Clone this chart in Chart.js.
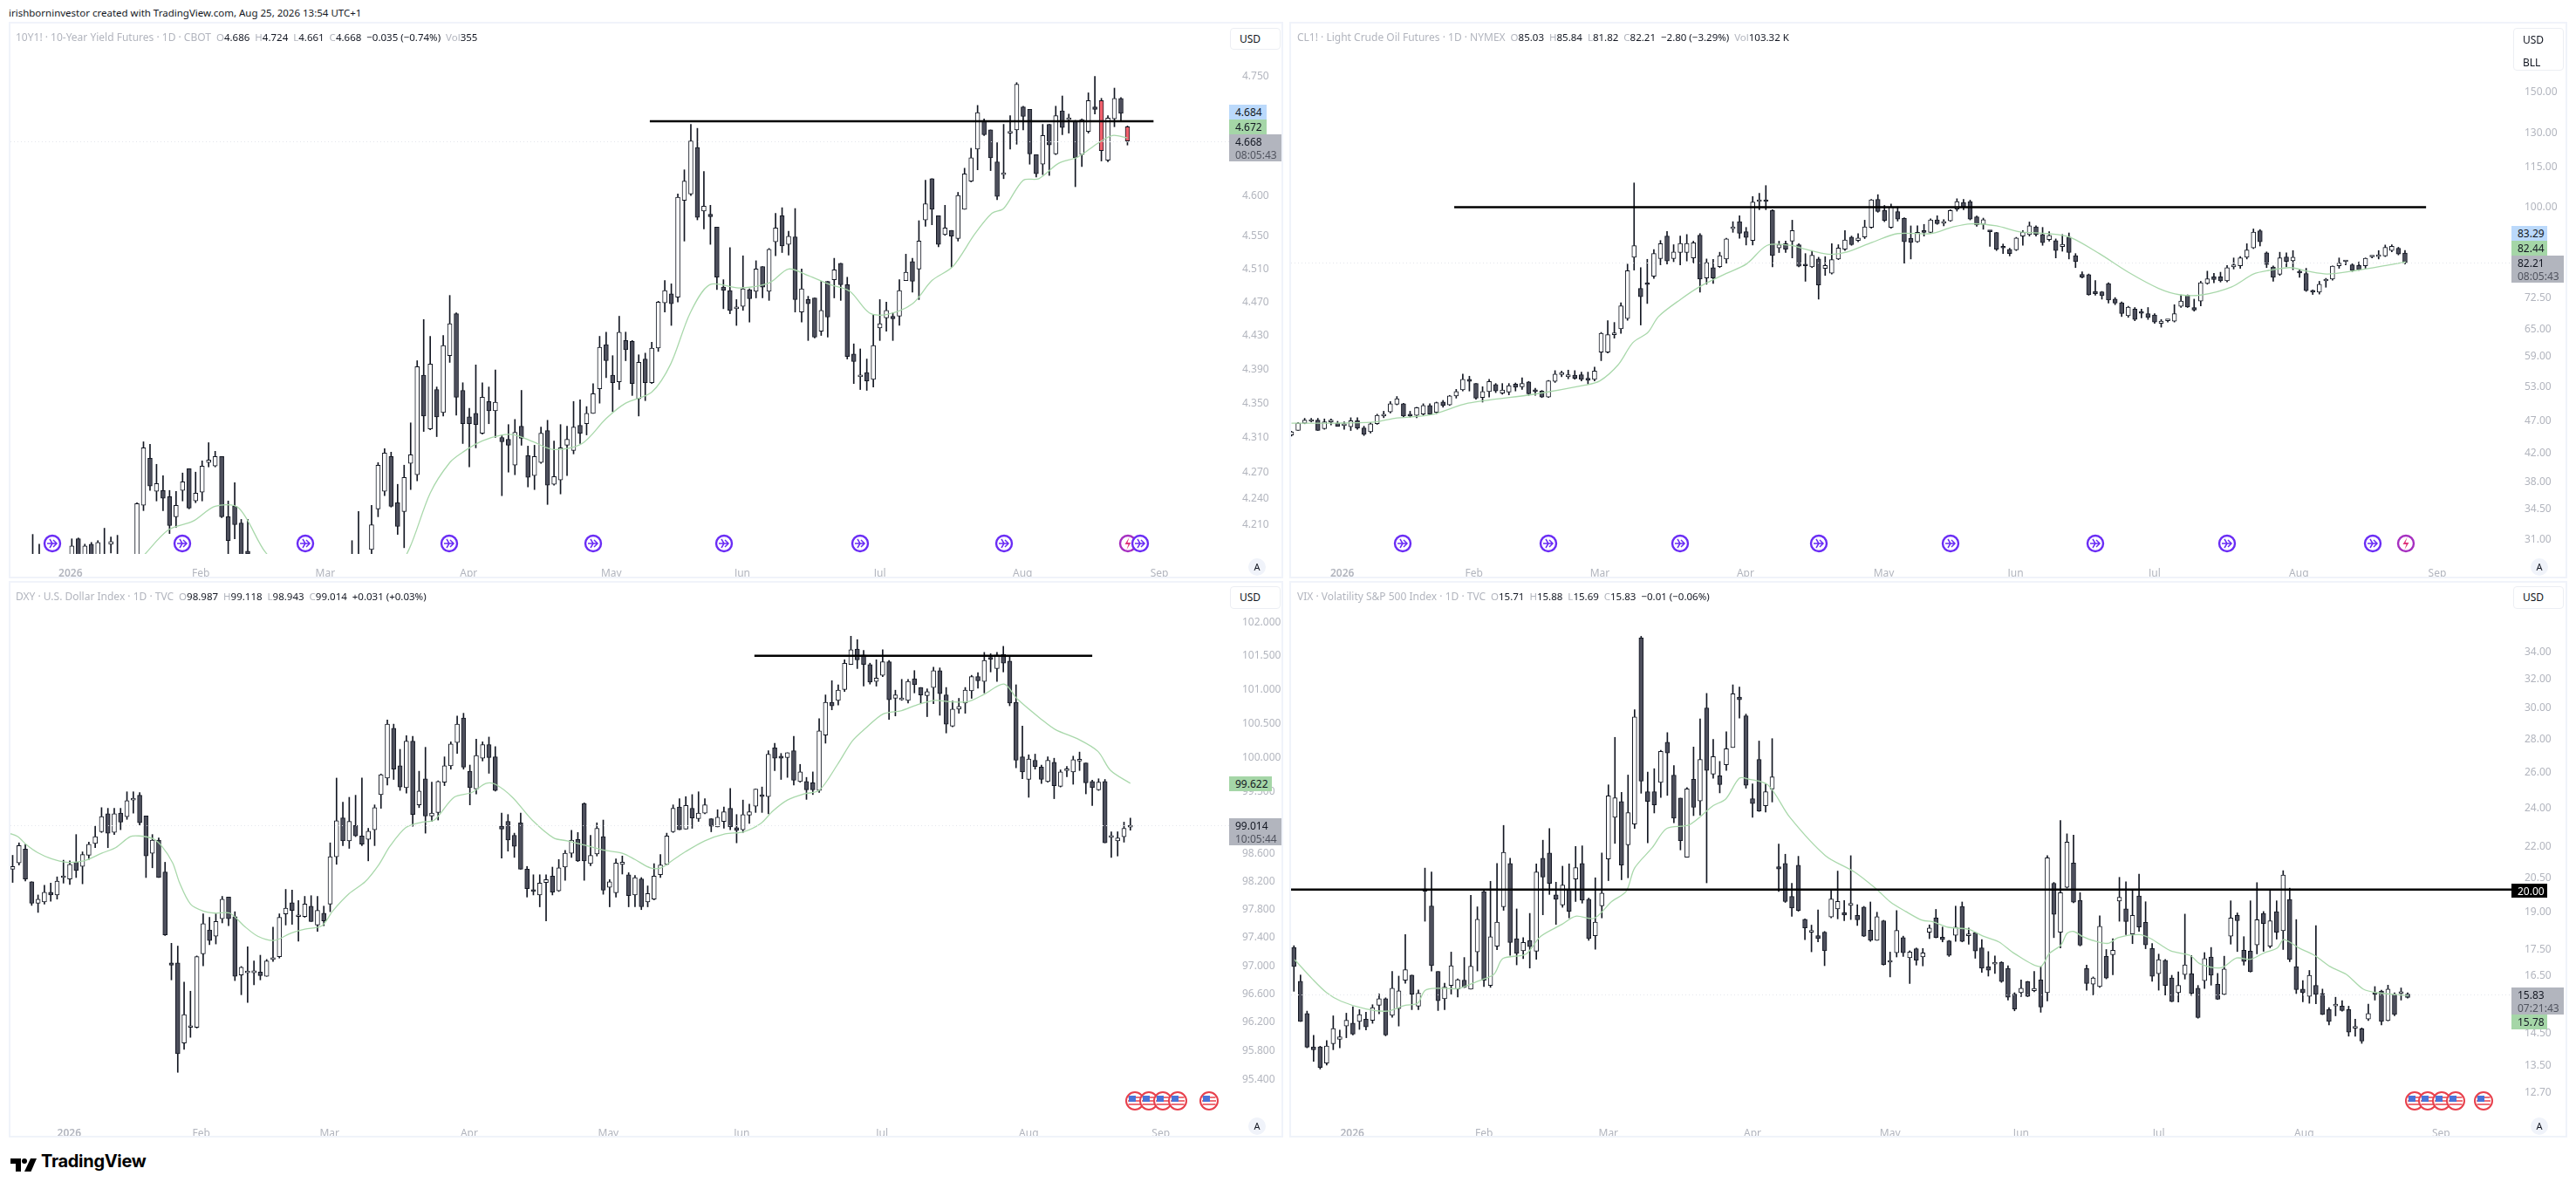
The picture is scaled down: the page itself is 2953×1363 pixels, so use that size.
<!DOCTYPE html>
<html>
<head>
<meta charset="utf-8">
<script src="https://cdn.jsdelivr.net/npm/chart.js@4"></script>
<style>
  body { margin: 0; background: #fff; width: 2953px; height: 1363px; overflow: hidden; position: relative; font-family: "Noto Sans", sans-serif; color: #131722; }
  .abs { position: absolute; white-space: nowrap; }
  canvas { position: absolute; }
  .frame { position: absolute; border: 2px solid #f0f3fa; box-sizing: border-box; }
  .legend { font-size: 11.5px; color: #b2b5be; }
  .legend b { font-weight: 400; color: #131722; }
  .legend span { font-size: 12px; }
  .badge { font-size: 12px; line-height: 15px; padding: 1px 0 0 7px; box-sizing: border-box; }
  .badge i { font-style: normal; color: #50535e; display: block; }
  .unit { background: #fff; border: 1px solid #eceef3; border-radius: 4px; box-sizing: border-box; font-size: 12px; padding-left: 10px; }
  .auto { width: 20px; height: 20px; border-radius: 10px; background: #f0f3fa; font-size: 11px; text-align: center; line-height: 20px; }
</style>
</head>
<body>
<script>
const monthNames = ["2026", "Feb", "Mar", "Apr", "May", "Jun", "Jul", "Aug", "Sep"];

// 10Y1! yield futures
const yieldTicks = [4.75, 4.6, 4.55, 4.51, 4.47, 4.43, 4.39, 4.35, 4.31, 4.27, 4.24, 4.21];
const yieldMonthAt = [5.8, 25.8, 44.9, 66.9, 88.8, 108.9, 130, 151.9, 172.9];
const yieldOpen = [4.160,4.170,null,null,null,null,4.165,4.194,4.170,4.188,4.170,4.170,4.188,4.170,null,null,4.170,4.232,4.286,4.248,4.249,4.242,4.219,4.249,4.274,4.237,4.247,4.281,4.277,4.288,4.219,4.231,4.212,4.180,null,null,null,null,null,null,null,null,null,null,null,null,null,null,null,4.16,4.16,null,
4.182,4.228,4.248,4.288,4.235,4.225,4.280,4.267,4.383,4.320,
4.366,4.339,4.406,4.456,4.365,4.334,4.338,4.315,4.352,4.341,
4.310,4.308,4.278,4.323,4.289,4.266,4.281,4.318,4.256,4.261,
4.301,4.295,4.324,4.326,4.338,4.367,4.419,4.383,4.375,4.424,
4.423,4.355,4.402,4.374,4.415,4.469,4.480,4.476,4.594,4.602,
4.660,4.581,4.577,4.561,4.488,4.484,4.462,4.465,4.485,4.483,
4.513,4.483,4.543,4.575,4.540,4.549,4.458,4.473,4.475,4.435,
4.495,4.497,4.517,4.491,4.408,4.381,4.386,4.378,4.439,4.451,
4.453,4.453,4.496,4.519,4.510,4.570,4.621,4.575,4.552,4.557,
4.547,4.583,4.618,4.658,4.694,4.682,4.642,4.626,4.678,4.682,
4.711,4.708,4.651,4.639,4.689,4.652,4.706,4.695,4.693,4.651,
4.680,4.711,4.719,4.644,4.696,4.722,4.686];
const yieldHigh = [4.199,4.188,null,null,null,null,4.194,4.195,4.188,4.190,4.192,4.206,4.196,4.198,null,null,4.235,4.305,4.302,4.279,4.266,4.249,4.248,4.269,4.274,4.270,4.283,4.304,4.294,4.288,4.237,4.258,4.216,4.216,null,null,null,null,null,null,null,null,null,null,null,null,null,null,null,4.192,4.225,null,
4.232,4.281,4.297,4.293,4.256,4.278,4.327,4.400,4.449,4.429,
4.369,4.430,4.478,4.457,4.374,4.344,4.395,4.374,4.369,4.389,
4.312,4.325,4.331,4.365,4.300,4.301,4.322,4.330,4.306,4.325,
4.323,4.352,4.354,4.346,4.373,4.429,4.434,4.406,4.453,4.434,
4.424,4.407,4.409,4.422,4.471,4.496,4.492,4.602,4.632,4.689,
4.684,4.630,4.588,4.561,4.497,4.536,4.473,4.526,4.486,4.520,
4.513,4.535,4.578,4.585,4.556,4.584,4.510,4.477,4.475,4.495,
4.495,4.523,4.517,4.500,4.420,4.414,4.402,4.455,4.473,4.470,
4.457,4.497,4.528,4.523,4.569,4.619,4.621,4.575,4.588,4.557,
4.604,4.634,4.659,4.713,4.696,4.682,4.666,4.689,4.700,4.742,
4.712,4.708,4.651,4.689,4.689,4.712,4.725,4.702,4.694,4.696,
4.729,4.750,4.722,4.700,4.735,4.723,4.687];
const yieldLow = [4.150,4.150,null,null,null,null,4.150,4.150,4.160,4.150,4.160,4.150,4.178,4.150,null,null,4.160,4.226,4.249,4.237,4.226,4.200,4.207,4.237,4.228,4.235,4.237,4.276,4.276,4.218,4.170,4.194,4.170,4.165,null,null,null,null,null,null,null,null,null,null,null,null,null,null,null,4.15,4.15,null,
4.165,4.219,4.243,4.230,4.199,4.184,4.250,4.260,4.317,4.319,
4.311,4.335,4.398,4.336,4.303,4.276,4.298,4.314,4.326,4.310,
4.243,4.270,4.267,4.301,4.253,4.250,4.280,4.233,4.255,4.245,
4.266,4.291,4.303,4.313,4.338,4.350,4.380,4.340,4.366,4.400,
4.359,4.335,4.353,4.373,4.411,4.458,4.442,4.470,4.544,4.600,
4.570,4.559,4.540,4.485,4.462,4.456,4.442,4.460,4.446,4.475,
4.475,4.472,4.526,4.530,4.527,4.458,4.446,4.424,4.427,4.430,
4.428,4.475,4.472,4.402,4.373,4.366,4.365,4.369,4.424,4.435,
4.424,4.442,4.496,4.482,4.473,4.562,4.564,4.537,4.551,4.512,
4.544,4.583,4.617,4.632,4.675,4.631,4.595,4.621,4.658,4.664,
4.682,4.639,4.623,4.626,4.625,4.651,4.676,4.678,4.611,4.636,
4.678,4.702,4.643,4.642,4.686,4.694,4.663];
const yieldClose = [4.170,4.160,null,null,null,null,4.186,4.160,4.186,4.165,4.190,4.160,4.191,4.165,null,null,4.234,4.298,4.254,4.257,4.240,4.209,4.232,4.259,4.229,4.246,4.277,4.284,4.288,4.219,4.192,4.210,4.175,4.177,null,null,null,null,null,null,null,null,null,null,null,null,null,null,null,4.165,4.165,null,
4.210,4.278,4.292,4.231,4.208,4.264,4.290,4.393,4.335,4.396,
4.334,4.418,4.444,4.357,4.326,4.326,4.325,4.357,4.341,4.351,
4.305,4.301,4.316,4.309,4.264,4.288,4.315,4.255,4.265,4.298,
4.308,4.322,4.315,4.338,4.361,4.416,4.400,4.374,4.434,4.413,
4.373,4.398,4.374,4.415,4.470,4.484,4.468,4.598,4.618,4.668,
4.573,4.587,4.574,4.500,4.484,4.460,4.462,4.486,4.474,4.510,
4.488,4.534,4.560,4.538,4.550,4.473,4.486,4.468,4.428,4.460,
4.452,4.509,4.491,4.405,4.399,4.381,4.376,4.418,4.444,4.460,
4.450,4.484,4.506,4.495,4.544,4.590,4.583,4.540,4.560,4.550,
4.600,4.627,4.647,4.704,4.676,4.647,4.599,4.628,4.680,4.740,
4.699,4.652,4.627,4.675,4.663,4.700,4.685,4.695,4.647,4.695,
4.719,4.708,4.656,4.697,4.722,4.703,4.668];
const yieldMaAt = [17,20.8,24.6,28,31.6,35.7,40,45,50,55,57.8,61,64,66,69,72,74,76.8,80,84.3,88,91,95,97.9,100.9,103.9,108.4,113,116,119,122.4,125.4,128.4,131,135,138,141.2,144.6,147.2,149,152,154.4,157.4,160.4,163.4,165.7,168];
const yieldMa = [4.175,4.204,4.214,4.231,4.229,4.179,4.150,4.125,4.125,4.150,4.183,4.246,4.281,4.293,4.306,4.313,4.313,4.305,4.296,4.303,4.332,4.350,4.363,4.396,4.457,4.491,4.487,4.493,4.510,4.502,4.491,4.483,4.457,4.455,4.468,4.496,4.513,4.553,4.578,4.584,4.619,4.621,4.640,4.648,4.665,4.675,4.672];

// CL1! crude oil
const oilTicks = [150, 130, 115, 100, 72.5, 65, 59, 53, 47, 42, 38, 34.5, 31];
const oilMonthAt = [7.7, 27.7, 46.8, 68.9, 89.9, 109.9, 131, 152.9, 173.9];
const oilOpen = [44.8,45.5,46.7,47.0,47.2,45.8,46.9,46.7,46.3,46.1,
47.1,45.9,45.3,46.6,47.9,48.6,49.9,50.0,48.2,48.0,
48.2,49.7,48.5,50.3,49.8,51.4,52.5,54.5,53.7,51.1,
52.2,53.5,51.9,52.1,53.6,53.1,54.0,52.3,52.3,51.2,
54.1,55.4,55.0,55.3,55.4,54.7,54.5,60.0,60.0,63.8,
65.1,67.5,83.8,75.1,76.3,78.4,83.4,90.3,83.4,85.2,
85.2,83.6,90.6,77.9,80.8,81.1,83.3,92.7,95.0,91.7,
88.9,102.0,102.3,98.8,86.6,87.9,88.7,87.6,81.8,81.0,
83.3,80.6,79.2,83.3,86.2,90.0,88.9,90.0,93.1,102.8,
98.9,93.1,98.4,96.1,89.6,88.5,92.1,91.5,95.6,94.5,
95.3,99.3,101.7,102.0,96.6,94.1,92.0,91.4,86.8,86.2,
86.0,90.3,90.8,93.3,90.8,89.2,88.9,87.0,90.0,84.3,
78.9,78.8,74.3,74.2,76.4,72.3,71.4,68.2,69.8,69.1,
68.7,68.4,66.4,67.0,66.9,70.5,73.3,70.2,71.8,76.4,
78.2,78.2,77.1,81.0,81.3,83.8,86.6,92.0,85.1,81.0,
78.9,83.9,82.8,79.5,79.1,74.3,74.1,77.1,77.6,81.3,
82.5,81.6,81.4,81.3,83.9,84.0,84.2,85.8,86.5,85.03];
const oilHigh = [45.4,46.8,47.5,47.5,47.5,47.4,47.4,47.0,46.9,47.6,
47.6,46.2,46.8,48.2,48.7,50.4,51.3,50.1,48.7,49.4,
50.0,50.0,50.3,50.6,51.5,52.6,55.5,55.1,53.7,53.1,
54.5,53.7,53.7,53.7,53.8,54.8,54.1,52.8,52.4,54.3,
56.2,56.1,56.3,56.2,55.9,55.9,56.9,64.3,67.0,66.6,
71.4,81.8,108.9,80.8,83.2,86.1,88.9,91.8,87.6,90.3,
90.8,88.7,91.1,83.3,83.2,85.3,89.6,95.0,97.0,93.1,
103.8,105.0,107.9,99.1,88.7,88.7,95.5,87.9,84.9,85.8,
83.8,84.0,87.9,87.6,92.1,90.3,91.1,95.5,102.8,104.5,
100.6,101.1,100.1,96.3,93.6,93.6,94.1,96.0,97.0,95.7,
99.1,103.0,102.8,102.5,96.9,96.2,92.1,91.5,87.8,86.5,
89.9,92.1,94.9,93.6,93.1,91.7,89.4,90.8,91.3,84.9,
79.6,79.0,77.2,74.3,76.6,72.7,71.6,70.5,70.2,69.8,
70.2,68.7,67.3,67.3,70.9,73.4,73.4,72.3,77.0,79.8,
79.2,79.5,81.4,83.6,84.0,87.9,92.6,92.4,85.4,81.3,
85.3,85.1,85.8,80.4,80.6,74.7,77.0,77.8,81.3,83.6,
82.8,81.9,82.4,83.6,84.2,85.8,87.5,87.6,86.8,85.84];
const oilLow = [44.6,45.5,46.6,46.9,45.5,45.7,46.4,46.2,45.7,45.5,
45.7,44.7,45.1,46.5,47.6,48.4,49.8,47.7,47.7,47.6,
48.0,48.1,48.3,49.4,49.7,51.0,52.3,52.3,50.8,50.3,
51.2,52.0,51.7,51.6,52.3,52.6,51.5,51.5,51.1,51.1,
53.9,55.0,54.6,54.5,54.2,53.6,54.2,58.2,59.8,63.0,
64.1,67.1,80.1,66.0,71.2,77.8,81.6,81.8,82.5,81.6,
82.7,82.1,74.1,76.2,76.4,80.8,82.1,91.5,89.6,87.5,
87.5,99.1,99.1,81.0,85.2,85.2,83.6,81.0,77.0,80.8,
72.3,78.6,79.0,83.1,85.8,87.4,88.5,89.5,92.8,98.2,
95.0,92.8,95.2,82.1,83.3,88.3,90.3,91.2,94.1,93.6,
95.1,98.6,99.1,95.6,93.5,92.5,87.1,85.8,84.9,84.2,
85.8,87.4,90.3,90.3,87.4,88.7,83.6,85.6,83.3,80.8,
77.9,73.3,73.3,72.3,71.3,70.9,68.0,67.8,67.0,67.7,
67.3,66.4,65.5,66.7,66.7,70.2,70.2,69.3,70.6,76.2,
76.6,76.8,76.8,80.4,80.6,83.3,86.4,87.2,80.8,77.0,
78.6,81.0,80.2,78.1,74.3,73.5,73.6,75.4,77.3,80.6,
81.6,79.7,80.0,80.6,83.6,83.3,84.0,85.4,84.5,81.82];
const oilClose = [45.3,46.7,47.2,47.2,45.5,46.9,47.0,46.2,46.3,47.1,
45.9,44.9,46.6,48.0,48.2,50.0,50.9,47.9,47.9,49.3,
49.7,48.2,50.2,49.7,51.4,52.2,54.5,54.1,51.0,52.2,
54.1,52.3,52.5,53.3,53.0,53.7,51.8,52.2,51.2,54.2,
55.5,55.8,55.4,54.7,54.5,54.3,56.1,64.1,63.8,63.9,
70.6,79.9,87.3,72.9,76.1,84.9,87.9,82.7,85.4,88.0,
88.0,88.2,77.6,82.2,77.9,84.3,89.4,92.8,91.2,89.9,
101.8,102.5,102.0,84.3,87.6,86.2,92.1,81.2,81.3,84.4,
76.0,81.4,83.1,86.6,89.1,87.6,89.7,93.3,102.6,98.5,
95.4,100.1,95.9,88.5,88.3,91.5,91.5,95.6,94.3,94.6,
98.8,102.0,100.1,95.9,93.9,95.7,91.7,86.2,86.6,84.9,
89.7,91.5,93.6,90.8,88.2,90.5,85.8,87.7,85.2,82.5,
78.1,73.4,73.7,73.2,72.1,71.3,68.7,70.3,67.3,68.8,
67.8,66.7,66.9,67.0,68.7,71.8,70.3,69.6,76.6,77.7,
77.5,77.1,80.8,81.6,83.6,86.0,91.6,88.5,81.7,78.1,
83.6,82.6,83.8,79.3,74.5,74.1,76.2,77.3,81.2,82.1,
82.5,80.0,80.2,83.5,84.0,84.3,86.8,87.1,84.8,82.21];
const oilMaAt = [0,6.7,12.8,15.6,21.2,26.8,36.8,44.6,46.8,49.6,51.8,54.1,55.7,59.1,61.9,65.8,69.1,72.2,75.8,78,81.4,84.2,88.1,92,97,100.3,103.1,107,110.4,114.8,118.2,122.6,127,131.6,134.9,138.2,142.7,146,148.3,151.6,154.4,157.2,161.6,166.1,169.1];
const oilMa = [46.7,46.7,46.9,47.5,48.1,50.1,51.7,53.4,54.2,57.4,62.0,64.3,68.0,72.3,75.5,79.0,81.9,87.4,87.4,86.2,84.7,85.3,88.3,91.1,91.1,93.2,94.3,93.6,91.7,91.1,89.9,84.9,79.5,75.1,73.4,73.4,75.5,79.0,80.0,80.8,79.7,79.0,80.0,81.4,82.44];

// DXY dollar index
const dollarTicks = [102, 101.5, 101, 100.5, 100, 99.5, 99, 98.6, 98.2, 97.8, 97.4, 97, 96.6, 96.2, 95.8, 95.4];
const dollarMonthAt = [8.9, 29.7, 49.9, 71.9, 93.8, 114.8, 136.9, 160, 180.8];
const dollarOpen = [98.38,98.47,98.67,98.20,97.89,97.91,98.05,98.01,98.26,98.24,
98.48,98.42,98.58,98.75,98.92,99.18,98.91,99.19,99.14,99.38,
99.45,99.15,98.61,98.80,98.34,97.04,97.04,95.91,96.13,96.13,
97.17,97.51,97.42,97.67,97.98,97.70,96.87,96.90,96.90,96.91,
96.85,97.09,97.13,97.74,97.90,97.70,97.70,97.85,97.58,97.75,
97.88,98.56,99.12,98.79,99.01,98.86,98.81,98.95,99.46,99.70,
100.43,99.88,99.56,100.24,99.31,99.69,99.15,99.20,99.64,99.88,
100.22,100.58,99.80,99.54,99.99,100.19,100.01,99.00,99.07,98.87,
99.05,98.38,98.07,98.01,98.19,98.28,98.07,98.41,98.61,98.81,
99.33,98.46,98.60,98.85,98.12,98.04,98.45,98.30,98.01,98.24,
97.91,97.95,98.30,98.45,98.92,99.28,98.96,99.26,99.11,99.19,
99.11,98.99,99.07,99.26,98.98,98.95,99.16,99.29,99.45,99.43,
100.14,100.02,100.00,100.10,99.65,99.65,99.63,99.52,100.33,100.81,
100.84,101.00,101.37,101.60,101.51,101.37,101.12,101.21,101.41,100.87,
100.85,100.84,101.16,101.03,100.91,101.03,101.28,100.92,100.46,100.71,
100.80,100.98,101.19,101.12,101.46,101.31,101.52,101.42,100.81,100.01,
99.68,99.96,99.86,99.65,99.93,99.58,99.81,99.79,99.95,99.92,
99.65,99.53,99.65,98.84,98.79,98.85,98.987];
const dollarHigh = [98.58,98.76,98.74,98.20,98.01,98.15,98.18,98.27,98.51,98.50,
98.88,98.63,98.77,99.00,99.27,99.26,99.26,99.26,99.50,99.50,
99.49,99.15,98.88,98.83,98.48,97.32,97.28,96.77,96.64,97.14,
97.74,97.69,97.74,97.99,97.98,97.77,96.99,97.27,97.07,97.15,
97.09,97.55,97.74,98.09,98.08,97.93,97.99,98.00,97.99,97.85,
98.76,99.70,99.35,99.42,99.45,99.70,98.97,99.31,99.76,100.55,
100.49,100.12,100.32,100.31,99.80,100.15,99.64,99.66,100.01,100.23,
100.61,100.65,99.89,100.27,100.23,100.30,100.16,99.19,99.17,98.90,
99.19,98.42,98.30,98.30,98.30,98.41,98.52,98.65,98.94,98.91,
99.34,98.87,99.05,99.09,98.23,98.53,98.57,98.33,98.29,98.26,
98.14,98.46,98.59,98.90,99.31,99.40,99.43,99.46,99.50,99.40,
99.11,99.24,99.28,99.55,99.17,99.38,99.32,99.54,99.57,100.10,
100.21,100.06,100.07,100.31,99.90,99.71,99.79,100.57,100.92,101.13,
101.07,101.44,101.79,101.74,101.58,101.39,101.44,101.59,101.43,100.99,
101.15,101.15,101.28,101.03,101.01,101.33,101.32,101.03,100.83,100.87,
101.03,101.21,101.25,101.55,101.53,101.55,101.64,101.50,101.07,100.46,
100.04,100.05,99.89,100.01,99.99,99.82,99.87,100.02,100.08,99.92,
99.67,99.69,99.68,98.92,98.92,99.06,99.118];
const dollarLow = [98.19,98.44,98.21,97.86,97.76,97.88,97.92,97.95,98.18,98.16,
98.26,98.17,98.52,98.69,98.91,98.69,98.88,98.95,99.10,99.19,
99.02,98.26,98.40,98.26,97.43,96.80,95.50,95.82,95.99,96.12,
97.00,97.30,97.31,97.61,97.57,96.79,96.59,96.48,96.73,96.80,
96.85,97.06,97.11,97.58,97.59,97.35,97.69,97.63,97.49,97.57,
97.77,98.45,98.72,98.68,98.85,98.72,98.50,98.72,99.26,99.60,
99.68,99.52,99.48,99.00,99.27,98.90,99.07,99.09,99.59,99.83,
100.06,99.83,99.31,99.47,99.95,99.77,99.51,98.54,98.64,98.55,
98.38,97.98,98.01,97.84,97.64,98.01,98.06,98.22,98.55,98.49,
98.22,98.43,98.57,98.02,97.84,97.98,98.31,97.84,97.84,97.80,
97.84,97.94,98.26,98.44,98.91,98.95,98.96,98.97,99.07,99.18,
98.92,98.99,98.97,98.95,98.76,98.91,99.04,99.20,99.20,99.18,
99.81,99.68,99.71,99.60,99.64,99.39,99.46,99.49,100.21,100.70,
100.77,100.97,101.37,101.31,101.05,101.08,101.05,101.19,100.56,100.61,
100.84,100.80,100.95,100.79,100.60,100.79,100.62,100.36,100.45,100.65,
100.65,100.87,101.02,100.95,101.26,101.12,101.26,100.76,99.85,99.69,
99.42,99.83,99.62,99.64,99.40,99.57,99.72,99.61,99.81,99.47,
99.30,99.52,98.76,98.55,98.57,98.77,98.943];
const dollarClose = [98.42,98.72,98.24,97.89,97.95,98.05,98.01,98.21,98.28,98.45,
98.36,98.59,98.74,98.85,99.14,98.90,99.18,99.06,99.37,99.39,
99.05,98.57,98.80,98.26,97.44,97.01,95.76,96.31,96.14,97.13,
97.60,97.36,97.63,97.95,97.67,96.85,96.98,96.91,96.93,96.86,
97.07,97.11,97.69,97.82,97.79,97.71,97.88,97.63,97.79,97.64,
98.56,99.08,98.79,99.07,98.86,98.74,98.93,99.27,99.75,100.49,
99.83,99.57,100.24,99.17,99.51,99.15,99.19,99.65,99.88,100.20,
100.49,99.86,99.56,100.03,100.19,100.00,99.52,98.96,98.80,98.71,
98.38,98.10,98.06,98.18,98.23,98.05,98.40,98.61,98.80,98.50,
98.50,98.58,98.97,98.08,98.20,98.47,98.48,98.00,98.26,97.84,
98.03,98.28,98.44,98.86,99.26,98.95,99.30,99.12,99.19,99.31,
99.00,99.13,99.21,98.99,98.94,99.17,99.21,99.54,99.43,100.05,
99.99,99.99,100.07,99.67,99.79,99.53,99.53,100.39,100.81,100.76,
100.99,101.39,101.59,101.44,101.37,101.11,101.17,101.41,100.85,100.92,
100.85,101.12,101.07,100.92,100.97,101.28,100.94,100.49,100.71,100.75,
100.99,101.19,101.13,101.43,101.45,101.51,101.39,100.80,99.96,99.79,
99.98,99.87,99.68,99.96,99.59,99.79,99.81,99.97,99.95,99.63,
99.56,99.64,98.76,98.84,98.83,98.97,99.014];
const dollarMaAt = [-0.6,0.8,2.2,3.9,6.1,8.4,11.2,14,16.2,18.5,19.9,22.1,23.5,25.2,26.3,28,30,31.9,34.2,36.4,38.6,41.2,43.7,46,48.7,50.4,53,55.5,57.7,59.4,61.9,64.5,66.4,69.5,72.3,74.5,76,78.7,81.8,85.2,87.3,90.8,93.4,96,98,100.4,102.1,104.1,105.9,109,112.2,115.1,117.8,119.7,122,124.6,127,129.9,132.2,134.2,137.1,140,142.3,145.2,147.5,150.4,153,156.1,158.2,162,164.2,168,170.9,172.9,176];
const dollarMa = [98.90,98.85,98.73,98.62,98.53,98.48,98.50,98.61,98.69,98.85,98.86,98.82,98.71,98.47,98.18,97.88,97.78,97.75,97.75,97.57,97.42,97.36,97.46,97.52,97.57,97.78,98.03,98.20,98.45,98.71,98.98,99.06,99.09,99.42,99.49,99.62,99.61,99.42,99.09,98.83,98.79,98.71,98.65,98.61,98.52,98.40,98.40,98.52,98.63,98.79,98.89,98.92,99.04,99.22,99.38,99.47,99.52,99.90,100.24,100.42,100.64,100.69,100.77,100.84,100.82,100.82,100.93,101.08,100.86,100.56,100.41,100.26,100.09,99.81,99.622];

// VIX
const vixTicks = [34, 32, 30, 28, 26, 24, 22, 20.5, 19, 17.5, 16.5, 15.5, 14.5, 13.5, 12.7];
const vixMonthAt = [8.9, 29, 48, 70, 91, 111, 132, 154.2, 175.1];
const vixOpen = [17.57,16.29,15.16,14.07,14.07,13.57,14.17,14.31,14.74,14.84,
14.89,14.97,14.93,15.44,15.67,15.10,15.33,16.33,16.52,15.41,
19.92,19.28,16.65,15.67,16.14,16.01,16.33,16.01,17.40,19.91,
16.14,17.62,19.24,21.20,17.92,17.44,17.85,17.42,21.45,21.70,
19.76,19.32,19.97,20.47,21.20,19.57,18.04,19.28,21.41,23.50,
24.35,22.10,23.15,35.09,24.88,24.89,25.41,27.80,25.83,24.53,
21.50,25.58,24.38,30.00,25.88,25.78,26.43,27.47,30.74,29.49,
24.50,26.75,24.12,25.04,21.04,21.20,19.69,21.12,18.71,18.18,
18.04,18.18,18.81,19.15,19.00,19.30,18.88,19.23,18.26,17.85,
18.65,17.00,17.36,17.96,17.17,17.52,17.20,18.18,18.77,17.98,
17.83,18.05,19.26,18.04,18.15,17.55,16.83,16.93,17.00,16.77,
15.83,15.88,16.28,15.95,16.34,15.88,20.28,18.18,20.10,21.22,
19.52,16.76,16.19,16.10,17.22,17.29,19.49,19.15,18.11,19.71,
18.58,17.53,16.57,17.07,16.41,15.88,16.54,16.57,16.04,16.31,
17.20,16.18,15.82,18.02,18.88,17.46,17.43,17.67,18.96,17.62,
19.03,18.24,19.56,16.83,16.01,15.75,16.14,15.85,15.29,15.42,
15.41,15.29,14.67,14.65,14.97,15.86,15.94,14.92,15.82,15.85,15.71];
const vixHigh = [17.64,16.52,15.24,14.44,14.09,14.27,15.08,14.61,15.17,15.39,
15.29,15.20,15.46,15.84,15.70,16.65,16.48,18.08,16.52,15.98,
20.98,20.80,16.65,16.22,17.39,16.38,17.18,19.74,19.24,19.97,
20.37,21.20,23.08,21.45,19.15,17.96,18.96,21.18,22.33,22.92,
20.33,21.07,21.18,22.02,22.05,19.62,20.53,21.70,25.27,28.10,
24.85,25.83,29.89,35.22,26.00,26.20,27.30,28.40,26.38,24.53,
25.12,27.50,29.29,31.00,27.97,26.63,28.46,31.60,31.45,29.60,
25.33,27.87,25.33,28.02,22.14,21.64,20.28,21.54,18.73,18.47,
19.11,18.21,19.95,20.84,19.51,21.57,19.33,19.26,19.45,19.01,
18.67,17.39,19.08,18.02,17.44,17.55,17.53,18.48,19.13,18.39,
17.85,19.27,19.45,18.35,18.18,17.88,17.41,17.24,17.02,16.87,
15.88,16.34,16.29,16.65,16.83,21.57,20.32,23.33,22.65,22.59,
19.86,16.89,16.45,18.86,17.49,17.92,20.55,20.35,19.96,20.70,
19.46,17.73,17.31,17.11,16.51,16.64,18.93,17.26,16.14,17.37,
17.57,16.58,17.23,19.50,18.98,18.00,19.50,20.31,19.04,19.96,
19.50,20.86,20.06,18.70,16.32,16.69,18.45,16.01,15.36,15.72,
15.60,15.41,14.97,14.68,15.48,16.10,15.97,16.15,15.88,16.05,15.88];
const vixLow = [15.93,14.89,14.04,13.62,13.39,13.51,13.98,14.04,14.36,14.45,
14.63,14.61,14.83,15.15,14.42,15.03,14.74,16.22,15.29,15.29,
18.63,16.67,15.26,15.29,15.83,15.73,16.06,16.01,16.67,16.10,
16.07,17.48,19.09,17.26,16.90,17.14,16.78,17.11,18.90,19.78,
18.50,19.22,18.77,19.47,19.40,17.85,17.50,18.77,20.40,22.17,
20.44,20.53,22.92,24.80,22.20,23.73,24.57,24.68,23.22,21.85,
21.50,23.59,23.62,20.30,25.65,24.82,26.10,27.47,29.33,25.08,
23.50,23.81,23.78,24.32,19.91,19.43,18.84,19.05,17.88,17.40,
17.79,16.87,18.77,18.73,18.65,18.70,18.45,18.00,17.81,17.85,
16.89,16.45,17.20,17.22,16.21,16.89,16.86,17.92,17.95,17.79,
17.22,17.81,17.79,17.70,17.15,16.62,16.48,16.58,16.25,15.62,
15.25,15.74,15.74,15.91,15.20,15.59,17.96,17.55,20.06,19.41,
17.63,15.97,15.80,16.07,16.38,16.53,18.63,18.08,17.72,18.21,
17.52,16.29,15.97,15.80,15.56,15.55,16.37,15.78,15.00,16.03,
16.15,15.64,15.81,17.70,17.41,16.89,16.63,17.32,17.42,17.55,
17.90,17.49,17.02,15.85,15.56,15.51,15.49,15.12,14.78,15.08,
15.24,14.41,14.41,14.18,14.92,15.62,14.78,14.91,15.08,15.62,15.69];
const vixClose = [16.84,14.89,14.06,13.98,13.44,14.10,14.66,14.39,14.93,14.48,
15.12,14.71,15.36,15.67,14.45,16.04,15.95,16.72,15.83,15.86,
20.02,16.87,15.60,16.08,16.87,16.35,16.08,16.85,18.71,16.33,
18.00,18.59,21.73,17.77,17.34,17.77,17.60,20.80,20.56,20.27,
19.57,20.20,19.05,21.00,19.53,17.92,18.59,19.84,24.65,24.55,
21.12,23.75,29.42,25.48,24.35,24.16,27.23,27.13,23.45,22.31,
25.04,24.03,26.75,26.10,26.92,25.29,27.39,30.98,30.56,25.25,
24.24,23.84,24.89,25.72,20.94,19.47,19.19,19.09,18.36,18.19,
17.92,17.44,19.58,19.47,18.89,19.39,18.69,18.02,17.85,18.82,
16.91,17.01,18.25,17.36,17.39,17.08,17.36,18.35,17.97,17.88,
17.26,18.39,17.81,18.05,17.43,16.77,16.70,17.00,16.28,15.72,
15.31,16.04,15.75,16.03,15.38,21.47,18.92,19.86,22.23,19.44,
17.66,16.21,16.41,18.42,16.41,17.46,19.66,18.62,18.88,18.39,
17.67,16.47,17.10,16.14,15.57,16.14,16.90,15.85,15.02,17.14,
16.51,15.65,16.74,18.77,18.65,17.03,16.64,18.69,18.54,18.65,
18.18,20.66,17.10,15.99,15.88,16.51,15.82,15.13,14.89,15.43,
15.26,14.54,14.68,14.25,15.16,15.82,14.89,16.01,15.13,15.90,15.83];
const vixMaAt = [0.1,2.8,5,7.2,11,14.2,17,18.9,20,22.1,25.1,27.8,30.5,31.9,35.4,37.6,40.9,43,45.8,48.5,50.7,52,54.7,56.9,60.4,64,65.9,68,69.4,72.4,75.7,81.1,85.6,88.9,91,93.4,95.9,97.5,99.9,102.9,105.2,107.6,110,113.9,115.3,117.1,118,119,120.4,121.9,124.3,125.8,129,130.8,133.8,136.8,138.3,141.5,143.9,146,148.1,150.1,151.1,153.4,155.8,158.2,160.6,163.2,165.3,170.1];
const vixMa = [17.10,16.38,15.88,15.58,15.31,15.24,15.44,15.51,15.96,16.04,16.03,16.27,16.54,17.14,17.31,18.00,18.50,18.84,18.75,19.47,19.91,20.98,21.96,22.92,23.12,24.12,24.48,25.65,25.60,25.25,23.50,21.58,20.79,20.02,19.46,19.04,18.67,18.61,18.38,18.30,18.02,17.79,17.33,16.83,17.33,17.67,18.13,18.21,18.00,17.85,17.73,17.96,18.08,17.92,17.44,17.26,16.94,16.79,17.16,17.11,17.36,17.55,17.88,17.55,17.26,16.83,16.55,16.01,15.88,15.78];

function addDiv(cls, left, top, width, height, html, extra) {
  const d = document.createElement("div");
  d.className = cls;
  d.style.cssText = `left:${left}px;top:${top}px;` + (width ? `width:${width}px;` : "") + (height ? `height:${height}px;` : "") + (extra || "");
  d.innerHTML = html || "";
  document.body.appendChild(d);
  return d;
}

// last price dotted line
const lastPricePlugin = {
  id: "lastPrice",
  afterDatasetsDraw(chart, args, opts) {
    const { ctx, chartArea, scales } = chart;
    const y = Math.round(scales.y.getPixelForValue(opts.value)) + 0.5;
    ctx.save();
    ctx.strokeStyle = "#e4e6ec";
    ctx.setLineDash([1, 3]);
    ctx.lineWidth = 1;
    ctx.beginPath();
    ctx.moveTo(chartArea.left, y);
    ctx.lineTo(chartArea.right, y);
    ctx.stroke();
    ctx.restore();
  }
};

function drawPane(p) {
  const xMin = (p.plotLeft - p.firstPx) / p.step;
  const xMax = (p.plotRight - p.firstPx) / p.step;
  const wicks = [], bodies = [], colors = [];
  p.open.forEach((o, i) => {
    if (o === null) return;
    wicks.push({ x: i, y: [p.low[i], p.high[i]] });
    bodies.push({ x: i, y: [o, p.close[i]] });
    colors.push(p.marks[i] || (p.close[i] >= o ? "#ffffff" : "#4d4f5c"));
  });
  const canvas = document.createElement("canvas");
  canvas.width = p.right - p.plotLeft;
  canvas.height = p.bottom - p.top;
  canvas.style.left = p.plotLeft + "px";
  canvas.style.top = p.top + "px";
  document.body.appendChild(canvas);

  new Chart(canvas.getContext("2d"), {
    type: "bar",
    plugins: [lastPricePlugin],
    data: {
      datasets: [
        { data: wicks, barThickness: 1, backgroundColor: "#131722", borderWidth: 0, grouped: false, order: 4 },
        { data: bodies, barThickness: 5, backgroundColor: colors, borderColor: "#131722", borderWidth: 1, borderSkipped: false, minBarLength: 2, grouped: false, order: 3 },
        { type: "line", data: p.maAt.map((x, i) => ({ x, y: p.ma[i] })), borderColor: "#a9d8ab", borderWidth: 1.3, pointRadius: 0, tension: 0.3, order: 2 },
        { type: "line", data: [{ x: p.levelFrom, y: p.level }, { x: p.levelTo, y: p.level }], borderColor: "#000000", borderWidth: 2.5, pointRadius: 0, order: 1 }
      ]
    },
    options: {
      responsive: false,
      animation: false,
      devicePixelRatio: 1,
      events: [],
      layout: { padding: 0 },
      plugins: { legend: { display: false }, tooltip: { enabled: false }, lastPrice: { value: p.last } },
      scales: {
        x: {
          type: "linear",
          offset: false,
          min: xMin,
          max: xMax,
          grid: { display: false },
          border: { display: false },
          afterBuildTicks(axis) { axis.ticks = p.monthAt.map(v => ({ value: v })); },
          afterFit(axis) {
            axis.height = p.bottom - p.plotBottom;
            axis.paddingLeft = 0;
            axis.paddingRight = 0;
          },
          ticks: {
            autoSkip: false,
            maxRotation: 0,
            padding: 7,
            color: "#b2b5be",
            font: c => ({ family: "Noto Sans", size: 12, weight: c.tick && c.tick.value === p.monthAt[0] ? "600" : "400" }),
            callback: v => monthNames[p.monthAt.indexOf(v)]
          }
        },
        y: {
          type: "logarithmic",
          position: "right",
          min: p.yMin,
          max: p.yMax,
          grid: { display: false },
          border: { display: false },
          afterBuildTicks(axis) { axis.ticks = p.ticks.map(v => ({ value: v })); },
          afterFit(axis) {
            axis.width = p.right - p.plotRight;
            axis.paddingTop = 0;
            axis.paddingBottom = 0;
          },
          ticks: {
            autoSkip: false,
            padding: 7,
            color: "#b2b5be",
            font: { family: "Noto Sans", size: 12 },
            callback: v => v.toFixed(p.dec)
          }
        }
      }
    }
  });
}

const purpleArrow = `<svg width="22" height="22" viewBox="0 0 22 22"><circle cx="11" cy="11" r="9" fill="#fff" stroke="#6a2cf5" stroke-width="2.4"/><path d="M5 11h11M12 7l4 4-4 4M8 6l3 5-3 5" fill="none" stroke="#6a2cf5" stroke-width="1.5"/></svg>`;
const boltIcon = `<svg width="22" height="22" viewBox="0 0 22 22"><circle cx="11" cy="11" r="9" fill="#fff" stroke="#a62fc0" stroke-width="2.4"/><path d="M12.5 4l-5 8h4l-2 6 5-8h-4z" fill="#e0357a"/></svg>`;
const flagIcon = `<svg width="22" height="22" viewBox="0 0 22 22"><circle cx="11" cy="11" r="10" fill="#fff" stroke="#e8404c" stroke-width="2"/><path d="M3.5 7h15M3 11h16M3.5 15h15" stroke="#e8404c" stroke-width="1.6"/><rect x="4" y="5" width="8" height="7" fill="#4a74d8"/></svg>`;
function icons(svg, xs, y) { xs.forEach(x => addDiv("abs", x - 11, y - 11, 22, 22, svg)); }
function legendRow(left, top, label, values) {
  addDiv("abs legend", left, top, 0, 0, `<span>${label}</span> &nbsp;` + values);
}
function badge(left, top, width, height, color, text, sub, fg) {
  addDiv("abs badge", left, top, width, height, text + (sub ? `<i>${sub}</i>` : ""), `background:${color};` + (fg ? `color:${fg};` : ""));
}

addDiv("abs", 10, 7, 0, 0, "irishborninvestor created with TradingView.com, Aug 25, 2026 13:54 UTC+1", "font-size:11.5px;");
addDiv("frame", 10, 25, 1461, 638);
addDiv("frame", 1478, 25, 1465, 638);
addDiv("frame", 10, 666, 1461, 638);
addDiv("frame", 1478, 666, 1465, 638);

drawPane({ open: yieldOpen, high: yieldHigh, low: yieldLow, close: yieldClose, maAt: yieldMaAt, ma: yieldMa, ticks: yieldTicks, monthAt: yieldMonthAt,
  plotLeft: 12, plotRight: 1409, right: 1469, top: 27, plotBottom: 635, bottom: 661, firstPx: 37.5, step: 7.47, yMin: 4.177, yMax: 4.818, dec: 3,
  level: 4.693, levelFrom: 94.7, levelTo: 172, last: 4.668, marks: { 164: "#f0606c", 168: "#f0606c" } });
drawPane({ open: oilOpen, high: oilHigh, low: oilLow, close: oilClose, maAt: oilMaAt, ma: oilMa, ticks: oilTicks, monthAt: oilMonthAt,
  plotLeft: 1480, plotRight: 2879, right: 2941, top: 27, plotBottom: 635, bottom: 661, firstPx: 1480.5, step: 7.553, yMin: 29.45, yMax: 191, dec: 2,
  level: 100, levelFrom: 24.7, levelTo: 172.2, last: 82.21, marks: {} });
drawPane({ open: dollarOpen, high: dollarHigh, low: dollarLow, close: dollarClose, maAt: dollarMaAt, ma: dollarMa, ticks: dollarTicks, monthAt: dollarMonthAt,
  plotLeft: 12, plotRight: 1409, right: 1469, top: 668, plotBottom: 1277, bottom: 1302, firstPx: 14.5, step: 7.28, yMin: 94.92, yMax: 102.59, dec: 3,
  level: 101.5, levelFrom: 116.8, levelTo: 170, last: 99.014, marks: {} });
drawPane({ open: vixOpen, high: vixHigh, low: vixLow, close: vixClose, maAt: vixMaAt, ma: vixMa, ticks: vixTicks, monthAt: vixMonthAt,
  plotLeft: 1480, plotRight: 2879, right: 2941, top: 668, plotBottom: 1277, bottom: 1302, firstPx: 1483.3, step: 7.51, yMin: 12.11, yMax: 39.7, dec: 2,
  level: 20, levelFrom: -1, levelTo: 186.5, last: 15.83, marks: { 170: "#5d6e78" } });

legendRow(18, 34, "10Y1! · 10-Year Yield Futures · 1D · CBOT", "O<b>4.686</b> &nbsp;H<b>4.724</b> &nbsp;L<b>4.661</b> &nbsp;C<b>4.668</b> &nbsp;<b>−0.035 (−0.74%)</b> &nbsp;Vol<b>355</b>");
legendRow(1487, 34, "CL1! · Light Crude Oil Futures · 1D · NYMEX", "O<b>85.03</b> &nbsp;H<b>85.84</b> &nbsp;L<b>81.82</b> &nbsp;C<b>82.21</b> &nbsp;<b>−2.80 (−3.29%)</b> &nbsp;Vol<b>103.32 K</b>");
legendRow(18, 675, "DXY · U.S. Dollar Index · 1D · TVC", "O<b>98.987</b> &nbsp;H<b>99.118</b> &nbsp;L<b>98.943</b> &nbsp;C<b>99.014</b> &nbsp;<b>+0.031 (+0.03%)</b>");
legendRow(1487, 675, "VIX · Volatility S&amp;P 500 Index · 1D · TVC", "O<b>15.71</b> &nbsp;H<b>15.88</b> &nbsp;L<b>15.69</b> &nbsp;C<b>15.83</b> &nbsp;<b>−0.01 (−0.06%)</b>");

addDiv("abs unit", 1410, 32, 58, 25, "USD", "line-height:23px;");
addDiv("abs unit", 2881, 32, 58, 49, "USD<br>BLL", "line-height:26px;");
addDiv("abs unit", 1410, 672, 58, 26, "USD", "line-height:24px;");
addDiv("abs unit", 2881, 672, 58, 26, "USD", "line-height:24px;");

badge(1409, 120, 43, 17, "#bbd9fb", "4.684");
badge(1409, 137, 43, 17, "#a5d6a7", "4.672");
badge(1409, 154, 60, 31, "#b2b5be", "4.668", "08:05:43");
badge(2879, 259, 41, 17, "#bbd9fb", "83.29");
badge(2879, 276, 41, 17, "#a5d6a7", "82.44");
badge(2879, 293, 60, 31, "#b2b5be", "82.21", "08:05:43");
badge(1409, 890, 49, 17, "#a5d6a7", "99.622");
badge(1409, 938, 60, 31, "#b2b5be", "99.014", "10:05:44");
badge(2879, 1013, 41, 16, "#000000", "20.00", "", "#ffffff");
badge(2879, 1132, 60, 31, "#b2b5be", "15.83", "07:21:43");
badge(2879, 1163, 41, 17, "#a5d6a7", "15.78");

addDiv("abs auto", 1431, 640, 20, 20, "A");
addDiv("abs auto", 2901, 640, 20, 20, "A");
addDiv("abs auto", 1431, 1281, 20, 20, "A");
addDiv("abs auto", 2901, 1281, 20, 20, "A");

icons(purpleArrow, [59.5, 208.6, 350, 515, 680, 830, 986, 1150.5], 622.6);
icons(boltIcon, [1293], 622.6);
icons(purpleArrow, [1307], 622.6);
icons(purpleArrow, [1608, 1775, 1926, 2085, 2236, 2402, 2553, 2720], 622.6);
icons(boltIcon, [2757.6], 622.6);
icons(flagIcon, [1300.6, 1316.6, 1332.7, 1349.7, 1385.6], 1262);
icons(flagIcon, [2768, 2783, 2799, 2815, 2846.5], 1262);

addDiv("abs", 12, 1326, 30, 15, `<svg width="30" height="15" viewBox="0 0 30 15"><path d="M0 0h12v15H6V6H0z" fill="#000"/><circle cx="16" cy="3" r="3" fill="#000"/><path d="M23 0h7l-6.5 15H16z" fill="#000"/></svg>`);
addDiv("abs", 47, 1319, 0, 0, "TradingView", "font-family:Inter,sans-serif;font-weight:700;font-size:20px;letter-spacing:-0.3px;color:#000;");
</script>
</body>
</html>
